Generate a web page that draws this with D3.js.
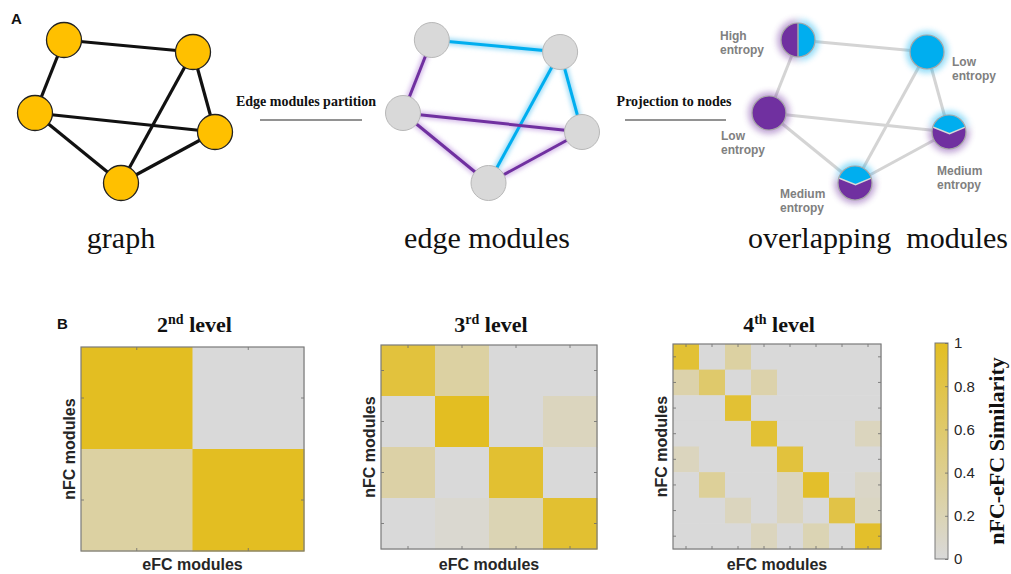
<!DOCTYPE html>
<html>
<head>
<meta charset="utf-8">
<script src="https://cdn.jsdelivr.net/npm/d3@7"></script>
<style>
  html, body { margin: 0; padding: 0; background: #fff; }
  svg { display: block; }
</style>
</head>
<body>
<svg id="fig" width="1011" height="574"></svg>
<script>
// ---------- Panel A: toy network ----------
// node layout in abstract units (shared by the three network drawings)
const nodeX = [29, 158, 0, 180, 86];
const nodeY = [2, 14, 75, 94, 145];
const edgeList = [[0, 1], [0, 2], [1, 3], [1, 4], [2, 3], [2, 4], [3, 4]];
// edge community of every edge: 1 = blue module, 0 = purple module
const edgeModule = [1, 0, 1, 1, 0, 0, 0];
const entropyText = [["High", "entropy"], ["Low", "entropy"], ["Low", "entropy"],
                     ["Medium", "entropy"], ["Medium", "entropy"]];
const networkTitles = ["graph", "edge modules", "overlapping  modules"];
const stepLabels = ["Edge modules partition", "Projection to nodes"];

// ---------- Panel B: nFC / eFC module similarity ----------
const levelTitles = [["2", "nd"], ["3", "rd"], ["4", "th"]];
const level2 = [
  [1.00, 0.00],
  [0.30, 1.00]
];
const level3 = [
  [0.85, 0.30, 0.00, 0.00],
  [0.00, 1.00, 0.00, 0.15],
  [0.28, 0.00, 0.92, 0.00],
  [0.00, 0.05, 0.20, 0.92]
];
const level4 = [
  [0.90, 0.00, 0.30, 0.00, 0.00, 0.00, 0.00, 0.00],
  [0.25, 0.60, 0.00, 0.25, 0.00, 0.00, 0.00, 0.00],
  [0.00, 0.00, 0.90, 0.00, 0.00, 0.00, 0.00, 0.00],
  [0.00, 0.00, 0.00, 0.90, 0.00, 0.00, 0.00, 0.15],
  [0.15, 0.00, 0.00, 0.00, 0.85, 0.00, 0.00, 0.00],
  [0.00, 0.35, 0.00, 0.00, 0.15, 0.95, 0.00, 0.10],
  [0.00, 0.00, 0.15, 0.00, 0.15, 0.00, 0.80, 0.12],
  [0.00, 0.00, 0.00, 0.15, 0.00, 0.20, 0.00, 0.95]
];
const colorbarTicks = [0, 0.2, 0.4, 0.6, 0.8, 1];

// ---------- styling ----------
const BLUE = "#00AEEF", PURPLE = "#7030A0", ORANGE = "#FFC000";
const serif = "'Liberation Serif', 'Times New Roman', serif";
const sans = "'Liberation Sans', Arial, sans-serif";

const svg = d3.select("#fig");
const defs = svg.append("defs");
defs.append("filter").attr("id", "soft").attr("x", "-50%").attr("y", "-50%")
  .attr("width", "200%").attr("height", "200%")
  .append("feGaussianBlur").attr("stdDeviation", 2.6);
defs.append("filter").attr("id", "soft2").attr("x", "-50%").attr("y", "-50%")
  .attr("width", "200%").attr("height", "200%")
  .append("feGaussianBlur").attr("stdDeviation", 2.0);

const yNode = d3.scaleLinear().domain([0, 145]).range([38, 183]);
const xRanges = [[35, 215], [403, 582], [769, 949]];
const xNodes = xRanges.map(r => d3.scaleLinear().domain([0, 180]).range(r));
const nodes = nodeX.map((x, i) => ({ i, x, y: nodeY[i] }));
const edges = edgeList.map(([s, t], k) => ({ s, t, m: edgeModule[k] }));

// share of blue-module edges at each node (projection of edge modules)
nodes.forEach(n => {
  const inc = edges.filter(e => e.s === n.i || e.t === n.i);
  n.frac = d3.mean(inc, e => e.m);
});

// panel letters
svg.append("text").attr("x", 11).attr("y", 24).attr("font-family", sans)
  .attr("font-weight", "bold").attr("font-size", 15).attr("fill", "#111").text("A");
svg.append("text").attr("x", 57).attr("y", 329).attr("font-family", sans)
  .attr("font-weight", "bold").attr("font-size", 15).attr("fill", "#111").text("B");

// --- network 1: plain graph
{
  const xs = xNodes[0];
  const g = svg.append("g");
  g.selectAll("line").data(edges).join("line")
    .attr("x1", d => xs(nodes[d.s].x)).attr("y1", d => yNode(nodes[d.s].y))
    .attr("x2", d => xs(nodes[d.t].x)).attr("y2", d => yNode(nodes[d.t].y))
    .attr("stroke", "#111").attr("stroke-width", 3.2);
  g.selectAll("circle").data(nodes).join("circle")
    .attr("cx", d => xs(d.x)).attr("cy", d => yNode(d.y)).attr("r", 17.5)
    .attr("fill", ORANGE).attr("stroke", "#222").attr("stroke-width", 1.3);
}

// --- network 2: edges coloured by module
{
  const xs = xNodes[1];
  const g = svg.append("g");
  const ecol = d => d.m ? BLUE : PURPLE;
  const eglow = d => d.m ? "#8FD6F6" : "#CDB0E6";
  const pos = sel => sel
    .attr("x1", d => xs(nodes[d.s].x)).attr("y1", d => yNode(nodes[d.s].y))
    .attr("x2", d => xs(nodes[d.t].x)).attr("y2", d => yNode(nodes[d.t].y));
  g.append("g").attr("filter", "url(#soft2)").selectAll("line").data(edges).join("line")
    .call(pos).attr("stroke", eglow).attr("stroke-width", 7).attr("opacity", 0.8);
  g.append("g").selectAll("line").data(edges).join("line")
    .call(pos).attr("stroke", ecol).attr("stroke-width", 3);
  g.selectAll("circle").data(nodes).join("circle")
    .attr("cx", d => xs(d.x)).attr("cy", d => yNode(d.y)).attr("r", 17.5)
    .attr("fill", "#D9D9D9").attr("stroke", "#B8B8B8").attr("stroke-width", 1);
}

// --- network 3: overlapping node memberships
function nodeGlyph(sel, frac, r) {
  if (frac >= 1 || frac <= 0) {
    sel.append("circle").attr("r", r).attr("fill", frac >= 1 ? BLUE : PURPLE);
  } else if (Math.abs(frac - 0.5) < 1e-6) {
    sel.append("path").attr("d", `M0,${-r}A${r},${r} 0 0 0 0,${r}Z`).attr("fill", PURPLE);
    sel.append("path").attr("d", `M0,${-r}A${r},${r} 0 0 1 0,${r}Z`).attr("fill", BLUE);
    sel.append("line").attr("x1", 0).attr("y1", -r).attr("x2", 0).attr("y2", r)
      .attr("stroke", "#A9A9A9").attr("stroke-width", 1.5);
  } else {
    const yl = -0.29 * r, xl = -Math.sqrt(1 - 0.29 * 0.29) * r;
    const vx = 0.03 * r, vy = 0.1 * r;
    sel.append("path").attr("d", `M${xl},${yl}A${r},${r} 0 0 1 ${-xl},${yl}L${vx},${vy}Z`).attr("fill", BLUE);
    sel.append("path").attr("d", `M${xl},${yl}L${vx},${vy}L${-xl},${yl}A${r},${r} 0 1 1 ${xl},${yl}Z`).attr("fill", PURPLE);
    sel.append("path").attr("d", `M${xl},${yl}L${vx},${vy}L${-xl},${yl}`)
      .attr("fill", "none").attr("stroke", "#D8D8D8").attr("stroke-width", 1.5);
  }
}
{
  const xs = xNodes[2];
  const g = svg.append("g");
  g.selectAll("line").data(edges).join("line")
    .attr("x1", d => xs(nodes[d.s].x)).attr("y1", d => yNode(nodes[d.s].y))
    .attr("x2", d => xs(nodes[d.t].x)).attr("y2", d => yNode(nodes[d.t].y))
    .attr("stroke", "#D4D4D4").attr("stroke-width", 3);
  const ng = g.selectAll("g.node").data(nodes).join("g").attr("class", "node")
    .attr("transform", d => `translate(${xs(d.x)},${yNode(d.y)})`);
  ng.each(function (d) {
    const me = d3.select(this);
    const halo = me.append("g").attr("filter", "url(#soft)").attr("opacity", 0.45)
      .attr("transform", "scale(1.22)");
    nodeGlyph(halo, d.frac, 17);
    nodeGlyph(me.append("g"), d.frac, 17);
    me.append("circle").attr("r", 17).attr("fill", "none")
      .attr("stroke", "#A8A8A8").attr("stroke-width", 1.2);
  });
  // entropy annotations, one text per line
  const labelPos = [[720, 40], [952, 66], [721, 140], [937, 175], [780, 198]];
  nodes.forEach((n, i) => {
    entropyText[i].forEach((s, k) => {
      svg.append("text").attr("x", labelPos[i][0]).attr("y", labelPos[i][1] + k * 13.6)
        .attr("font-family", sans).attr("font-weight", "bold")
        .attr("font-size", 12).attr("fill", "#808080").text(s);
    });
  });
}

// network captions
const captionX = [121, 487, 878];
networkTitles.forEach((s, i) => {
  svg.append("text").attr("x", captionX[i]).attr("y", 248).attr("text-anchor", "middle")
    .attr("font-family", serif).attr("font-size", 30).attr("fill", "#111")
    .style("white-space", "pre").text(s);
});

// step labels with underline strokes
const stepGeom = [{ cx: 306, x1: 260, x2: 362 }, { cx: 674, x1: 625, x2: 726 }];
stepLabels.forEach((s, i) => {
  svg.append("text").attr("x", stepGeom[i].cx).attr("y", 106).attr("text-anchor", "middle")
    .attr("font-family", serif).attr("font-weight", "bold").attr("font-size", 14)
    .attr("fill", "#111").text(s);
  svg.append("line").attr("x1", stepGeom[i].x1).attr("x2", stepGeom[i].x2)
    .attr("y1", 120).attr("y2", 120).attr("stroke", "#6E6E6E").attr("stroke-width", 1.6);
});

// ---------- heatmaps ----------
const color = d3.scaleLinear().domain([0, 1]).range(["#D9D9D9", "#E3BE22"])
  .interpolate(d3.interpolateRgb);

const frames = [
  { m: level2, x0: 81, y0: 347, w: 223, h: 204 },
  { m: level3, x0: 381, y0: 345, w: 216, h: 204 },
  { m: level4, x0: 673, y0: 344, w: 208, h: 205 }
];

frames.forEach((f, k) => {
  const n = f.m.length;
  const xb = d3.scaleBand().domain(d3.range(n)).range([f.x0, f.x0 + f.w]);
  const yb = d3.scaleBand().domain(d3.range(n)).range([f.y0, f.y0 + f.h]);
  const g = svg.append("g");
  const cells = f.m.flatMap((row, r) => row.map((v, c) => ({ r, c, v })));
  g.selectAll("rect").data(cells).join("rect")
    .attr("x", d => xb(d.c)).attr("y", d => yb(d.r))
    .attr("width", xb.bandwidth() + 0.5).attr("height", yb.bandwidth() + 0.5)
    .attr("fill", d => color(d.v));

  // inward ticks at cell centres on all four sides
  const tick = (axis, tx, ty) => {
    const a = g.append("g").attr("transform", `translate(${tx},${ty})`)
      .call(axis.tickSizeInner(-3).tickSizeOuter(0).tickFormat(""));
    a.select(".domain").remove();
    a.selectAll("line").attr("stroke", "#6A6A6A").attr("stroke-width", 0.8);
  };
  tick(d3.axisTop(xb), 0, f.y0);
  tick(d3.axisBottom(xb), 0, f.y0 + f.h);
  tick(d3.axisLeft(yb), f.x0, 0);
  tick(d3.axisRight(yb), f.x0 + f.w, 0);

  g.append("rect").attr("x", f.x0).attr("y", f.y0).attr("width", f.w).attr("height", f.h)
    .attr("fill", "none").attr("stroke", "#7A7A7A").attr("stroke-width", 1.2);

  const cx = f.x0 + f.w / 2;
  // title with ordinal superscript
  const t = svg.append("text").attr("x", cx + 2).attr("y", 332).attr("text-anchor", "middle")
    .attr("font-family", serif).attr("font-weight", "bold").attr("font-size", 22).attr("fill", "#111");
  t.append("tspan").text(levelTitles[k][0]);
  t.append("tspan").attr("font-size", 14).attr("dy", -8).text(levelTitles[k][1]);
  t.append("tspan").attr("dy", 8).text(" level");

  svg.append("text").attr("x", cx).attr("y", 570).attr("text-anchor", "middle")
    .attr("font-family", sans).attr("font-weight", "bold").attr("font-size", 16)
    .attr("fill", "#262626").text("eFC modules");
  svg.append("text").attr("transform", `translate(${f.x0 - 6},${f.y0 + f.h / 2}) rotate(-90)`)
    .attr("text-anchor", "middle").attr("font-family", sans).attr("font-weight", "bold")
    .attr("font-size", 16).attr("fill", "#262626").text("nFC modules");
});

// ---------- colorbar ----------
const cbX = 935, cbW = 13, cbTop = 343, cbBot = 559;
const cbScale = d3.scaleLinear().domain([0, 1]).range([cbBot, cbTop]);
const grad = defs.append("linearGradient").attr("id", "cbgrad")
  .attr("x1", 0).attr("y1", 1).attr("x2", 0).attr("y2", 0);
d3.range(0, 1.0001, 0.1).forEach(v => {
  grad.append("stop").attr("offset", v).attr("stop-color", color(v));
});
svg.append("rect").attr("x", cbX).attr("y", cbTop).attr("width", cbW).attr("height", cbBot - cbTop)
  .attr("fill", "url(#cbgrad)").attr("stroke", "#7A7A7A").attr("stroke-width", 1);
const cbAxis = svg.append("g").attr("transform", `translate(${cbX + cbW},0)`)
  .call(d3.axisRight(cbScale).tickValues(colorbarTicks).tickSizeInner(-3).tickSizeOuter(0)
    .tickPadding(6).tickFormat(d3.format("")));
cbAxis.select(".domain").remove();
cbAxis.selectAll("line").attr("stroke", "#6A6A6A").attr("stroke-width", 0.8);
cbAxis.selectAll("text").attr("font-family", sans).attr("font-size", 15).attr("fill", "#262626");

svg.append("text").attr("transform", `translate(1004,${(cbTop + cbBot) / 2}) rotate(-90)`)
  .attr("text-anchor", "middle").attr("font-family", serif).attr("font-weight", "bold")
  .attr("font-size", 22).attr("fill", "#111").text("nFC-eFC Similarity");
</script>
</body>
</html>
